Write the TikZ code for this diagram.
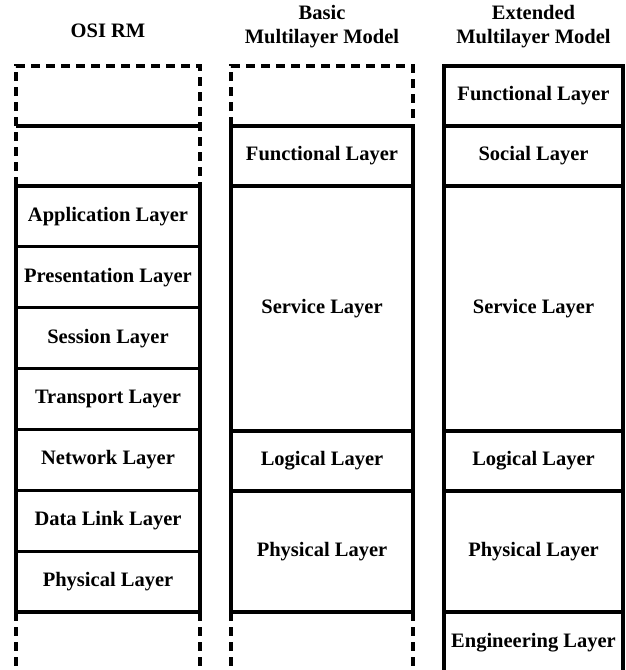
\documentclass[tikz,border=0pt]{standalone}
\usepackage{fontspec}
\setmainfont{Liberation Serif}
\begin{document}
\begin{tikzpicture}[x=1pt,y=-1pt,
  lay/.style={draw, line width=3.2pt, inner sep=0pt, outer sep=0pt, font=\fontsize{20.5}{23}\selectfont\bfseries, align=center},
  hdr/.style={font=\fontsize{20.5}{24}\selectfont\bfseries, align=center, inner sep=0pt},
  dsh/.style={line width=3.2pt, dash pattern=on 9pt off 6pt},
  sol/.style={line width=3.2pt}]
\useasboundingbox (0,0) rectangle (625,670);
% headers
\node[hdr] (h1) at (108,31) {OSI RM};
\node[hdr] (h2) at (322,26.5) {Basic\\Multilayer Model};
\node[hdr] (h3) at (533.5,26.5) {Extended\\Multilayer Model};
% OSI column (x 16..200)
\draw[dsh] (16,186) -- (16,66) -- (200,66) -- (200,186);
\draw[sol] (16,126) -- (200,126);
\draw[dsh] (16,612) -- (16,670);
\draw[dsh] (200,612) -- (200,670);
\node[lay, minimum width=184pt, minimum height=60.86pt] (o1) at (108,216.43) {Application Layer};
\node[lay, minimum width=184pt, minimum height=60.86pt] (o2) at (108,277.29) {Presentation Layer};
\node[lay, minimum width=184pt, minimum height=60.86pt] (o3) at (108,338.14) {Session Layer};
\node[lay, minimum width=184pt, minimum height=60.86pt] (o4) at (108,399.0) {Transport Layer};
\node[lay, minimum width=184pt, minimum height=60.86pt] (o5) at (108,459.86) {Network Layer};
\node[lay, minimum width=184pt, minimum height=60.86pt] (o6) at (108,520.71) {Data Link Layer};
\node[lay, minimum width=184pt, minimum height=60.86pt] (o7) at (108,581.57) {Physical Layer};
% Basic column (x 231..413)
\draw[dsh] (231,126) -- (231,66) -- (413,66) -- (413,126);
\draw[dsh] (231,612) -- (231,670);
\draw[dsh] (413,612) -- (413,670);
\node[lay, minimum width=182pt, minimum height=60pt] (b1) at (322,156) {Functional Layer};
\node[lay, minimum width=182pt, minimum height=245pt] (b2) at (322,308.5) {Service Layer};
\node[lay, minimum width=182pt, minimum height=60pt] (b3) at (322,461) {Logical Layer};
\node[lay, minimum width=182pt, minimum height=121pt] (b4) at (322,551.5) {Physical Layer};
% Extended column (x 444..623)
\node[lay, minimum width=179pt, minimum height=60pt] (e1) at (533.5,96) {Functional Layer};
\node[lay, minimum width=179pt, minimum height=60pt] (e2) at (533.5,156) {Social Layer};
\node[lay, minimum width=179pt, minimum height=245pt] (e3) at (533.5,308.5) {Service Layer};
\node[lay, minimum width=179pt, minimum height=60pt] (e4) at (533.5,461) {Logical Layer};
\node[lay, minimum width=179pt, minimum height=121pt] (e5) at (533.5,551.5) {Physical Layer};
\draw[sol] (444,612) -- (444,672);
\draw[sol] (623,612) -- (623,672);
\node[hdr, font=\fontsize{20.5}{23}\selectfont\bfseries] (e6) at (533.5,643) {Engineering Layer};
\end{tikzpicture}
\end{document}
